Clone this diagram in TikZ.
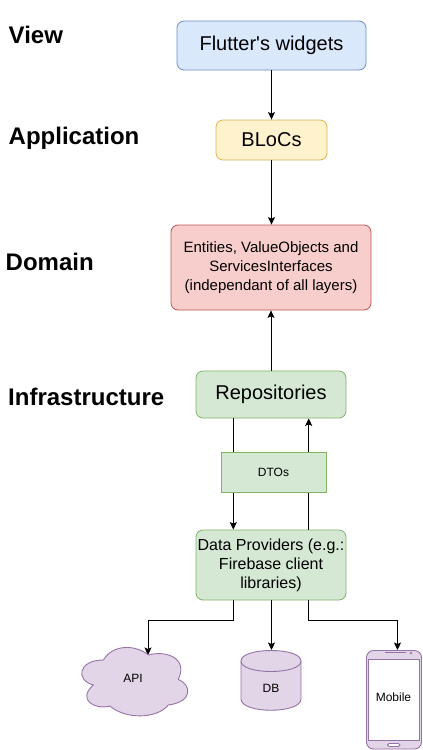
\documentclass[tikz,border=0pt]{standalone}
\usepackage{fontspec}
\setmainfont{Liberation Sans}[Ligatures=TeXOff]
\usetikzlibrary{arrows.meta,calc}
\definecolor{bluef}{HTML}{DAE8FC}\definecolor{blued}{HTML}{6C8EBF}
\definecolor{yelf}{HTML}{FFF2CC}\definecolor{yeld}{HTML}{D6B656}
\definecolor{redf}{HTML}{F8CECC}\definecolor{redd}{HTML}{B85450}
\definecolor{grnf}{HTML}{D5E8D4}\definecolor{grnd}{HTML}{82B366}
\definecolor{purf}{HTML}{E1D5E7}\definecolor{purd}{HTML}{9673A6}
\tikzset{
  box/.style={draw,rounded corners=7pt,line width=0.8pt,minimum width=#1,inner sep=0pt,align=center,text=black},
  layer/.style={font=\bfseries\fontsize{24}{28}\selectfont,anchor=west,inner sep=0pt,text=black},
  conn/.style={line width=1pt,black,-{Stealth[length=7.5pt,width=7pt,inset=1.5pt]}},
  big/.style={font=\fontsize{20}{23}\selectfont},
  small/.style={font=\fontsize{12}{14}\selectfont,inner sep=0pt,text=black},
  pur/.style={draw=purd,fill=purf,line width=0.9pt}
}
\begin{document}
\begin{tikzpicture}[x=1pt,y=-1pt]
\useasboundingbox (0,0) rectangle (423,750);
\node[layer] (lview) at (8.5,34.5) {View};
\node[layer] (lapp) at (8.5,138.5) {Application};
\node[layer] (ldom) at (5.5,262) {Domain};
\node[layer] (linf) at (8,396.5) {Infrastructure};

\node[box=189pt,minimum height=49pt,fill=bluef,draw=blued,big] (flutter) at (271.5,45.5) {\raisebox{1.5pt}{Flutter's widgets}};
\node[box=111pt,minimum height=40pt,fill=yelf,draw=yeld,big] (blocs) at (271.5,140) {\raisebox{1pt}{BLoCs}};
\node[box=200pt,minimum height=85pt,fill=redf,draw=redd,font=\fontsize{15}{19}\selectfont] (domain) at (271,267.5) {Entities, ValueObjects and\\ServicesInterfaces\\(independant of all layers)};
\node[box=150pt,minimum height=47pt,fill=grnf,draw=grnd,big] (repo) at (271,394.5) {\raisebox{1.5pt}{Repositories}};
\node[box=150pt,minimum height=70pt,fill=grnf,draw=grnd,font=\fontsize{16}{19}\selectfont] (dp) at (271,565) {Data Providers (e.g.:\\Firebase client\\libraries)};

% targets
\coordinate (apitop) at (148,655);
\coordinate (dbtop) at (271.5,650);
\coordinate (mobtop) at (397.5,650);
\coordinate (repL) at ($(repo.south west)!0.25!(repo.south east)$);
\coordinate (repR) at ($(repo.south west)!0.75!(repo.south east)$);
\coordinate (dpL) at ($(dp.north west)!0.25!(dp.north east)$);
\coordinate (dpR) at ($(dp.north west)!0.75!(dp.north east)$);
\coordinate (dpbL) at ($(dp.south west)!0.25!(dp.south east)$);
\coordinate (dpbR) at ($(dp.south west)!0.75!(dp.south east)$);

\draw[conn] (flutter.south -| blocs.north) -- (blocs.north);
\draw[conn] (blocs.south) -- (blocs.south |- domain.north);
\draw[conn] (repo.north) -- (repo.north |- domain.south);
\draw[conn] (repL) -- (dpL);
\draw[conn] (dpR) -- (repR);
\draw[conn] (dpbL) -- ++(0,20.5) -| (apitop);
\draw[conn] (dp.south -| dbtop) -- (dbtop);
\draw[conn] (dpbR) -- ++(0,20.5) -| (mobtop);

\node[draw=grnd,fill=grnf,line width=0.8pt,minimum width=105pt,minimum height=40pt,small] (dtos) at (273.5,472) {DTOs};

% cloud
\begin{scope}[shift={(60,600)},x=0.3333pt,y=-0.3333pt]
\draw[pur] (265,165)
 .. controls (320,150) and (385,175) .. (355,238)
 .. controls (395,255) and (400,305) .. (325,315)
 .. controls (290,358) and (195,358) .. (150,318)
 .. controls (105,330) and (50,300) .. (100,255)
 .. controls (45,240) and (55,180) .. (130,180)
 .. controls (160,130) and (230,135) .. (265,165) -- cycle;
\end{scope}
\node[small] (api) at (133,678.5) {API};

% database
\path[pur] (241,661) .. controls (241,647) and (301,647) .. (301,661) -- (301,699) .. controls (301,714) and (241,714) .. (241,699) -- cycle;
\draw[purd,line width=0.9pt] (241,661) .. controls (241,675) and (301,675) .. (301,661);
\node[small] (db) at (271,688) {DB};

% mobile
\draw[pur,rounded corners=7pt] (366.5,650.5) rectangle (421.5,749);
\draw[purd,line width=0.9pt,fill=white] (368.5,659.5) rectangle (419.5,740.5);
\draw[purd,line width=0.9pt,fill=white,rounded corners=1.5pt] (387.5,743.5) rectangle (400,746.5);
\draw[purd,line width=1pt] (385,652.5) -- (406,652.5);
\draw[purd,line width=0.5pt] (411,653) circle (1pt);
\node[small] (mob) at (393.5,697.5) {Mobile};
\end{tikzpicture}
\end{document}
